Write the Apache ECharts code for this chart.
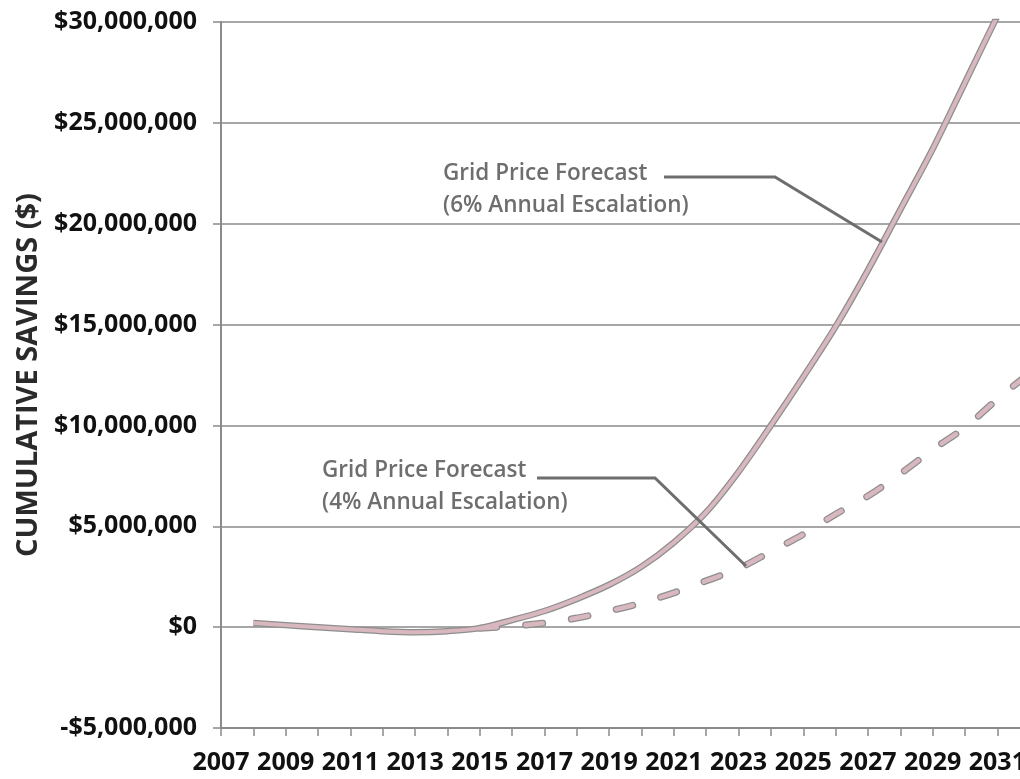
<!DOCTYPE html>
<html>
<head>
<meta charset="utf-8">
<script src="https://cdn.jsdelivr.net/npm/echarts@6/dist/echarts.min.js"></script>
<style>
html,body{margin:0;padding:0;background:#fff;}
#chart{width:1020px;height:779px;}
</style>
</head>
<body>
<div id="chart"></div>
<script>
// Years (x) and cumulative savings ($)
var years6 = [2008, 2009, 2010, 2011, 2012, 2013, 2014, 2015, 2016, 2017, 2018, 2019, 2020, 2021, 2022, 2023, 2024, 2025, 2026, 2027, 2028, 2029, 2030, 2031];
var savings6 = [200000, 100000, 0, -100000, -200000, -250000, -200000, -50000, 350000, 800000, 1400000, 2100000, 3000000, 4200000, 5700000, 7700000, 10000000, 12400000, 14900000, 17700000, 20700000, 23700000, 27000000, 30300000];
var years4 = [2015, 2016, 2017, 2018, 2019, 2020, 2021, 2022, 2023, 2024, 2025, 2026, 2027, 2028, 2029, 2030, 2031, 2032];
var savings4 = [-50000, 50000, 200000, 450000, 800000, 1200000, 1700000, 2300000, 2900000, 3750000, 4600000, 5600000, 6500000, 7600000, 8800000, 9900000, 11300000, 12600000];
var yTicks = [-5000000, 0, 5000000, 10000000, 15000000, 20000000, 25000000, 30000000];
var label6 = ['Grid Price Forecast', '(6% Annual Escalation)'];
var label4 = ['Grid Price Forecast', '(4% Annual Escalation)'];
var yAxisTitle = 'CUMULATIVE SAVINGS ($)';

function pairs(xs, ys){ return xs.map(function(x,i){ return [x, ys[i]]; }); }
function money(v){
  var s = Math.abs(v).toString().replace(/\B(?=(\d{3})+(?!\d))/g, ',');
  return (v < 0 ? '-$' : '$') + s;
}

var chart = echarts.init(document.getElementById('chart'), null, {renderer:'canvas'});
var FONT = '"Open Sans", "DejaVu Sans", sans-serif';
var outline = '#8e8e8e', fill = '#d8b7bf';

chart.setOption({
  animation: false,
  backgroundColor: '#ffffff',
  grid: {left: 221, right: 0, top: 22, bottom: 51, containLabel: false, outerBoundsMode: 'none'},
  xAxis: {
    type: 'value', min: 2007, max: 2031.7, interval: 1,
    axisLine: {onZero: false, lineStyle: {color: '#8a8a8a', width: 2}},
    axisTick: {show: true, length: 8, lineStyle: {color: '#8a8a8a', width: 1.5}},
    splitLine: {show: false},
    axisLabel: {
      margin: 22, color: '#111', fontFamily: FONT, fontWeight: 'bold', fontSize: 25,
      showMaxLabel: false, showMinLabel: true, hideOverlap: false,
      formatter: function(v){ return ((v - 2007) % 2 === 0 && v <= 2031) ? String(v) : ''; }
    }
  },
  yAxis: {
    type: 'value', min: yTicks[0], max: yTicks[yTicks.length-1], interval: 5000000,
    name: yAxisTitle, nameLocation: 'middle', nameGap: 177, nameRotate: 90,
    nameTextStyle: {color: '#2a2a2a', fontFamily: FONT, fontWeight: 'bold', fontSize: 29},
    axisLine: {show: true, lineStyle: {color: '#8a8a8a', width: 2}},
    axisTick: {show: true, length: 8, lineStyle: {color: '#8a8a8a', width: 1.5}},
    splitLine: {show: true, lineStyle: {color: '#8a8a8a', width: 1.5}},
    axisLabel: {margin: 24, color: '#111', fontFamily: FONT, fontWeight: 'bold', fontSize: 25, formatter: money}
  },
  series: [
    {type:'line', name:'6% outline', data: pairs(years6, savings6), smooth: 0.3, showSymbol:false, symbol:'none', clip:true,
     lineStyle:{color: outline, width: 6.5}, z: 2},
    {type:'line', name:'6%', data: pairs(years6, savings6), smooth: 0.3, showSymbol:false, symbol:'none', clip:true,
     lineStyle:{color: fill, width: 4}, z: 3},
    {type:'line', name:'4% outline', data: pairs(years4, savings4), smooth: 0.3, showSymbol:false, symbol:'none', clip:true,
     lineStyle:{color: outline, width: 7, type:[17, 29], cap:'round'}, z: 2},
    {type:'line', name:'4%', data: pairs(years4, savings4), smooth: 0.3, showSymbol:false, symbol:'none', clip:true,
     lineStyle:{color: fill, width: 4.5, type:[17, 29], cap:'round'}, z: 3}
  ],
  graphic: [
    {type:'text', left: 443, top: 158, style:{text: label6.join('\n'), fill:'#6e6e6e', font:'600 22.5px ' + FONT, lineHeight: 32}},
    {type:'polyline', shape:{points:[[664,177],[775,177],[882,242]]}, style:{stroke:'#6e6e6e', lineWidth:3, fill:null}, z: 10},
    {type:'text', left: 322, top: 455, style:{text: label4.join('\n'), fill:'#6e6e6e', font:'600 22.5px ' + FONT, lineHeight: 32}},
    {type:'polyline', shape:{points:[[537,478],[655,478],[746,566]]}, style:{stroke:'#6e6e6e', lineWidth:3, fill:null}, z: 10}
  ]
});
</script>
</body>
</html>
